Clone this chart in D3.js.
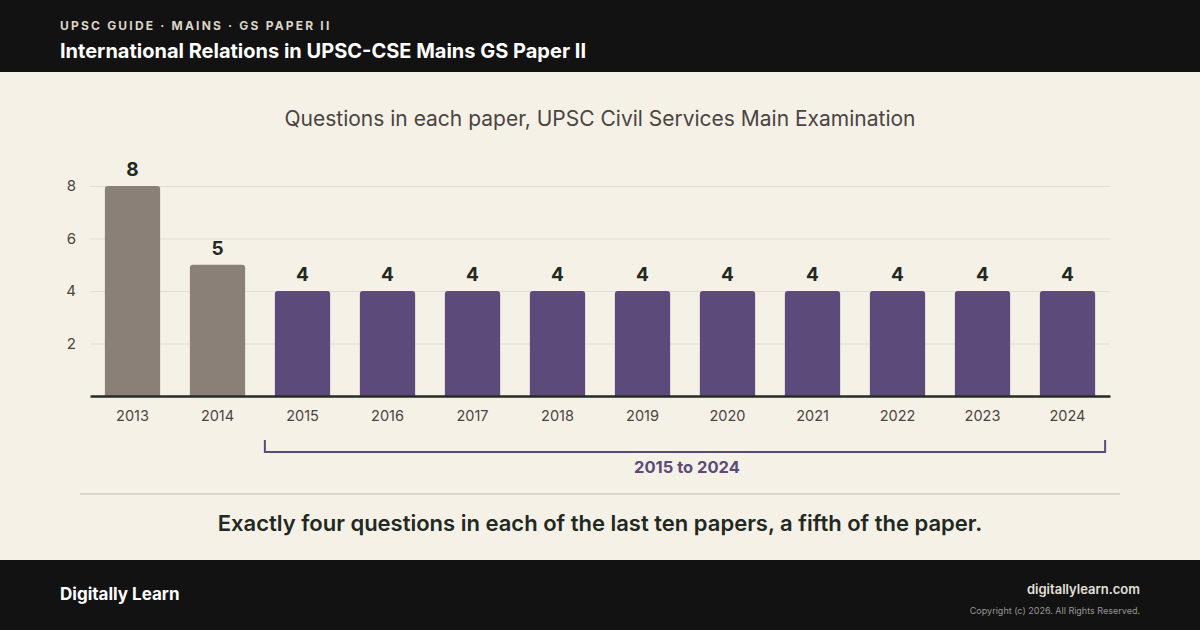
<!DOCTYPE html>
<html lang="en">
<head>
<meta charset="utf-8">
<title>International Relations in UPSC-CSE Mains GS Paper II</title>
<script src="https://d3js.org/d3.v7.min.js" charset="utf-8"></script>
<style>
 html, body { margin: 0; padding: 0; background: #f6f1e7; }
 svg { display: block; font-family: Inter, "Noto Sans", sans-serif; }
 .yaxis text, .xaxis text { font-family: Inter, "Noto Sans", sans-serif; }
</style>
</head>
<body>
<script>

 //Chart values
 var years = ["2013", "2014", "2015", "2016", "2017", "2018", "2019", "2020", "2021", "2022", "2023", "2024"];
 var questions = [8, 5, 4, 4, 4, 4, 4, 4, 4, 4, 4, 4];
 var yTicks = [2, 4, 6, 8];
 var highlightFrom = "2015";
 var highlightTo = "2024";
 var bracketLabel = "2015 to 2024";

 var W = 1200, H = 630;
 var margin = {top: 186, right: 90, bottom: 234, left: 90};
 var width = W - margin.left - margin.right;
 var height = H - margin.top - margin.bottom;

 var data = years.map(function (y, i) { return {year: y, value: questions[i]}; });

 var svg = d3.select("body").append("svg")
     .attr("width", W)
     .attr("height", H);

 //Background and bands
 svg.append("rect").attr("width", W).attr("height", H).attr("fill", "#f6f1e7");
 svg.append("rect").attr("width", W).attr("height", 72).attr("fill", "#121212");
 svg.append("rect").attr("y", 560).attr("width", W).attr("height", 70).attr("fill", "#121212");

 //Header
 svg.append("text")
    .attr("x", 60).attr("y", 30)
    .attr("font-size", 12).attr("font-weight", 700)
    .attr("letter-spacing", "2.2px")
    .attr("fill", "#ddd5ca")
    .text("UPSC GUIDE · MAINS · GS PAPER II");
 svg.append("text")
    .attr("x", 60).attr("y", 58)
    .attr("font-size", 20).attr("font-weight", 700)
    .attr("fill", "#ffffff")
    .text("International Relations in UPSC-CSE Mains GS Paper II");

 //Subtitle
 svg.append("text")
    .attr("x", 600).attr("y", 126)
    .attr("text-anchor", "middle")
    .attr("font-size", 21)
    .attr("fill", "#4a4442")
    .text("Questions in each paper, UPSC Civil Services Main Examination");

 var g = svg.append("g")
     .attr("transform", "translate(" + margin.left + "," + margin.top + ")");

 var xScale = d3.scaleBand()
     .domain(years)
     .range([0, width])
     .paddingInner(0.35)
     .paddingOuter(0.175);

 var yScale = d3.scaleLinear()
     .domain([0, 8])
     .range([height, 0]);

 //Gridlines and y labels
 var yAxis = g.append("g")
     .attr("class", "yaxis")
     .call(d3.axisLeft(yScale).tickValues(yTicks).tickSize(-width).tickPadding(14));
 yAxis.select(".domain").remove();
 yAxis.selectAll("line").attr("stroke", "#e2dcd1").attr("stroke-width", 1);
 yAxis.selectAll("text").attr("font-size", 15).attr("fill", "#4a4442");

 //Bars
 g.selectAll(".bar")
  .data(data)
  .enter()
  .append("path")
  .attr("class", "bar")
  .attr("d", function (d) {
      var x0 = xScale(d.year), w = xScale.bandwidth();
      var y0 = yScale(d.value), y1 = yScale(0), r = 3;
      return "M" + x0 + "," + y1 + "V" + (y0 + r) +
             "Q" + x0 + "," + y0 + " " + (x0 + r) + "," + y0 +
             "H" + (x0 + w - r) +
             "Q" + (x0 + w) + "," + y0 + " " + (x0 + w) + "," + (y0 + r) +
             "V" + y1 + "Z";
  })
  .attr("fill", function (d) { return +d.year >= +highlightFrom ? "#5c4a7a" : "#8a8078"; });

 //Value labels
 g.selectAll(".val")
  .data(data)
  .enter()
  .append("text")
  .attr("class", "val")
  .attr("x", function (d) { return xScale(d.year) + xScale.bandwidth() / 2; })
  .attr("y", function (d) { return yScale(d.value) - 10; })
  .attr("text-anchor", "middle")
  .attr("font-size", 19).attr("font-weight", 700)
  .attr("fill", "#222822")
  .text(function (d) { return d.value; });

 //X axis
 var xAxis = g.append("g")
     .attr("class", "xaxis")
     .attr("transform", "translate(0," + height + ")")
     .call(d3.axisBottom(xScale).tickSize(0).tickPadding(15));
 xAxis.select(".domain").attr("stroke", "#262b26").attr("stroke-width", 2.5);
 xAxis.selectAll("text").attr("font-size", 14.5).attr("fill", "#4a4442");

 //Bracket for highlighted range
 var bx0 = xScale(highlightFrom) - 10;
 var bx1 = xScale(highlightTo) + xScale.bandwidth() + 10;
 var byTop = height + 44, byBot = height + 56;
 g.append("path")
  .attr("d", "M" + bx0 + "," + byTop + "V" + byBot + "H" + bx1 + "V" + byTop)
  .attr("fill", "none")
  .attr("stroke", "#5c4a7a")
  .attr("stroke-width", 2);
 g.append("text")
  .attr("x", (bx0 + bx1) / 2 + 2)
  .attr("y", height + 77)
  .attr("text-anchor", "middle")
  .attr("font-size", 16.5).attr("font-weight", 700)
  .attr("fill", "#5c4a7a")
  .text(bracketLabel);

 //Divider
 svg.append("line")
    .attr("x1", 80).attr("x2", 1120)
    .attr("y1", 494).attr("y2", 494)
    .attr("stroke", "#ddd6ca").attr("stroke-width", 2);

 //Takeaway
 svg.append("text")
    .attr("x", 600).attr("y", 531)
    .attr("text-anchor", "middle")
    .attr("font-size", 22).attr("font-weight", 600)
    .attr("fill", "#222822")
    .text("Exactly four questions in each of the last ten papers, a fifth of the paper.");

 //Footer
 svg.append("text")
    .attr("x", 60).attr("y", 600)
    .attr("font-size", 17).attr("font-weight", 700)
    .attr("fill", "#ffffff")
    .text("Digitally Learn");
 svg.append("text")
    .attr("x", 1140).attr("y", 594)
    .attr("text-anchor", "end")
    .attr("font-size", 13).attr("font-weight", 600)
    .attr("fill", "#e4e0da")
    .text("digitallylearn.com");
 svg.append("text")
    .attr("x", 1140).attr("y", 614)
    .attr("text-anchor", "end")
    .attr("font-size", 9)
    .attr("fill", "#9a9692")
    .text("Copyright (c) 2026. All Rights Reserved.");

</script>
</body>
</html>
